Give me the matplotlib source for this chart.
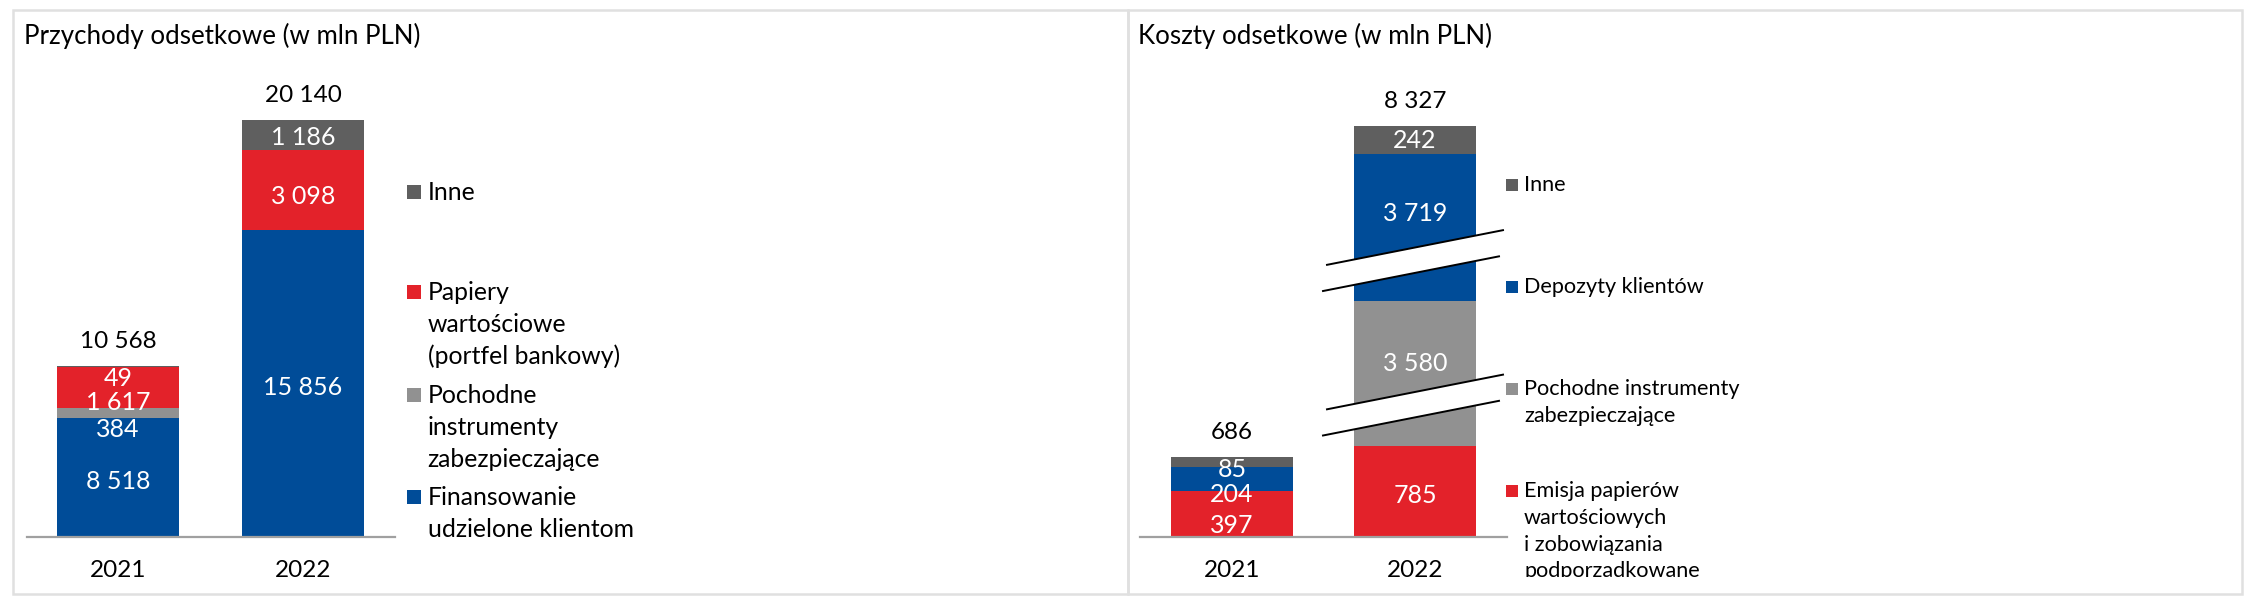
import numpy as np
import matplotlib
matplotlib.use('Agg')
import matplotlib.pyplot as plt
from matplotlib.patches import Rectangle, Polygon
from matplotlib.lines import Line2D
from matplotlib.transforms import Bbox, TransformedBbox, IdentityTransform

plt.rcParams['font.family'] = ['Lato', 'DejaVu Sans']

# ---------------- data ----------------
years = ['2021', '2022']

# Przychody odsetkowe (w mln PLN)
inc_finansowanie = [8518, 15856]
inc_pochodne = [384, 0]
inc_papiery = [1617, 3098]
inc_inne = [49, 1186]
inc_total = [10568, 20140]

# Koszty odsetkowe (w mln PLN)
cost_emisja = [397, 785]
cost_pochodne = [0, 3580]
cost_depozyty = [204, 3719]
cost_inne = [85, 242]
cost_total = [686, 8327]

title_left = 'Przychody odsetkowe (w mln PLN)'
title_right = 'Koszty odsetkowe (w mln PLN)'

legend_left = [
    ['Inne'],
    ['Papiery', 'wartościowe', '(portfel bankowy)'],
    ['Pochodne', 'instrumenty', 'zabezpieczające'],
    ['Finansowanie', 'udzielone klientom'],
]
legend_right = [
    ['Inne'],
    ['Depozyty klientów'],
    ['Pochodne instrumenty', 'zabezpieczające'],
    ['Emisja papierów', 'wartościowych', 'i zobowiązania', 'podporządkowane'],
]

# ---------------- style ----------------
W, H, DPI = 2250, 604, 100
BLUE = '#004C98'
RED = '#E3222A'
DGRAY = '#5F5F5F'
LGRAY = '#919191'
FRAME = '#E0E0E0'
AXIS = '#A0A0A0'
PX = 72.0 / DPI  # points per pixel


def fmt(v):
    return f'{v:,}'.replace(',', ' ')


def fx(px):
    return px / W


def fy(py):
    return 1 - py / H


def break_funcs(gaps):
    def fwd(v):
        v = np.asarray(v, dtype=float)
        out = v.copy()
        for g0, g1 in gaps:
            out = out - np.clip(v - g0, 0, g1 - g0)
        return out

    def inv(d):
        d = np.asarray(d, dtype=float)
        out = d.copy()
        shift = 0.0
        for g0, g1 in gaps:
            pos = g0 - shift
            out = out + np.where(d > pos, g1 - g0, 0.0)
            shift += g1 - g0
        return out
    return fwd, inv


fig = plt.figure(figsize=(W / DPI, H / DPI), dpi=DPI)
fig.patch.set_facecolor('white')

# panel frames
for x0, x1 in [(13.4, 1127.7), (1127.7, 2241.7)]:
    fig.add_artist(Rectangle((fx(x0), fy(594)), fx(x1) - fx(x0), fy(10) - fy(594),
                             transform=fig.transFigure, fill=False,
                             edgecolor=FRAME, lw=1.8, zorder=0))

BASE = 537.0
TOP = 55.0


def panel(x0, x1, centers, width_px, units_per_px, gaps, stacks, totals,
          label_dy, title, title_x, legend, leg_colors, leg_sq_x, leg_sq,
          leg_text_x, leg_first, leg_spacing, leg_size, clip_y=None, breaks=False):
    ax = fig.add_axes([fx(x0), fy(BASE), (x1 - x0) / W, (BASE - TOP) / H])
    fwd, inv = break_funcs(gaps)
    ax.set_yscale('function', functions=(fwd, inv))
    ppu = centers[1] - centers[0]
    ax.set_xlim(-(centers[0] - x0) / ppu, 1 + (x1 - centers[1]) / ppu)
    ax.set_ylim(0, float(inv((BASE - TOP) * units_per_px)))
    ax.set_facecolor('none')
    for s in ['top', 'right', 'left']:
        ax.spines[s].set_visible(False)
    ax.spines['bottom'].set_color(AXIS)
    ax.spines['bottom'].set_linewidth(1.6)
    ax.set_xticks([])
    ax.set_yticks([])
    ax.yaxis.set_minor_locator(matplotlib.ticker.NullLocator())

    xs = np.arange(len(years))
    w = width_px / ppu
    bottom = np.zeros(len(years))
    for (vals, col), dys in zip(stacks, label_dy):
        vals = np.asarray(vals, dtype=float)
        ax.bar(xs, vals, width=w, bottom=bottom, color=col, linewidth=0, zorder=2)
        for i, v in enumerate(vals):
            if v <= 0:
                continue
            mid = (fwd(bottom[i]) + fwd(bottom[i] + v)) / 2
            ax.annotate(fmt(int(v)), xy=(xs[i], float(inv(mid))),
                        xytext=(0, -(9 + dys[i]) * PX), textcoords='offset points',
                        ha='center', va='baseline', color='white', fontsize=18, zorder=4)
        bottom = bottom + vals
    for i, t in enumerate(totals):
        ax.annotate(fmt(t), xy=(xs[i], bottom[i]), xytext=(0, 18 * PX),
                    textcoords='offset points', ha='center', va='baseline',
                    color='black', fontsize=17.5, annotation_clip=False)
        ax.annotate(years[i], xy=(xs[i], 0), xytext=(0, -40 * PX),
                    textcoords='offset points', ha='center', va='baseline',
                    color='black', fontsize=17.5, annotation_clip=False)

    fig.text(fx(title_x), fy(44.3), title, fontsize=18.6, va='baseline', ha='left')

    # legend
    for lines, col, yb in zip(legend, leg_colors, leg_first):
        fig.add_artist(Rectangle((fx(leg_sq_x), fy(yb - leg_sq[1])), leg_sq[0] / W,
                                 leg_sq[0] / H, transform=fig.transFigure,
                                 facecolor=col, edgecolor='none'))
        for k, line in enumerate(lines):
            t = fig.text(fx(leg_text_x), fy(yb + k * leg_spacing), line,
                         fontsize=leg_size, va='baseline', ha='left')
            if clip_y is not None:
                t.set_clip_box(TransformedBbox(Bbox([[0, fy(clip_y)], [1, 1]]),
                                               fig.transFigure))
                t.set_clip_on(True)

    if breaks:
        for g0, g1 in gaps:
            cx, cy = ax.transData.transform((1, g0))
            half, slope = 12.7, 0.197

            def ya(x):
                return cy + half + slope * (x - cx)

            def yb_(x):
                return cy - half + slope * (x - cx)
            A = [(cx - 88, ya(cx - 88)), (cx + 88, ya(cx + 88))]
            B = [(cx - 92, yb_(cx - 92)), (cx + 84, yb_(cx + 84))]
            fig.add_artist(Polygon([A[0], A[1], B[1], B[0]], closed=True,
                                   transform=IdentityTransform(),
                                   facecolor='white', edgecolor='none', zorder=3))
            for L in (A, B):
                fig.add_artist(Line2D([L[0][0], L[1][0]], [L[0][1], L[1][1]],
                                      transform=IdentityTransform(),
                                      color='black', lw=1.4, zorder=4))
    return ax


# left panel
panel(26.8, 395, (118, 303), 123, 38.9, [(2000, 5900)],
      [(inc_finansowanie, BLUE), (inc_pochodne, LGRAY), (inc_papiery, RED), (inc_inne, DGRAY)],
      inc_total,
      [[2, 2.5], [14.7, 0], [13.5, 5], [11, 1.3]],
      title_left, 24.5, legend_left, [DGRAY, RED, LGRAY, BLUE],
      406.7, (14, 1), 427.7, [200, 300, 403.3, 505], 32, 17.8)

# right panel
panel(1140, 1507, (1232, 1415), 121.5, 8.6, [(1138, 3471), (4713.5, 7168.5)],
      [(cost_emisja, RED), (cost_pochodne, LGRAY), (cost_depozyty, BLUE), (cost_inne, DGRAY)],
      cost_total,
      [[10.2, 2.2], [0, -11.6], [14.3, -14.9], [6, -0.5]],
      title_right, 1138.4, legend_right, [DGRAY, BLUE, LGRAY, RED],
      1506, (12, 0), 1524, [190.7, 292.7, 395, 497.3], 26.7, 15.6,
      clip_y=576.5, breaks=True)

fig.savefig('out.png', dpi=DPI, facecolor='white')
